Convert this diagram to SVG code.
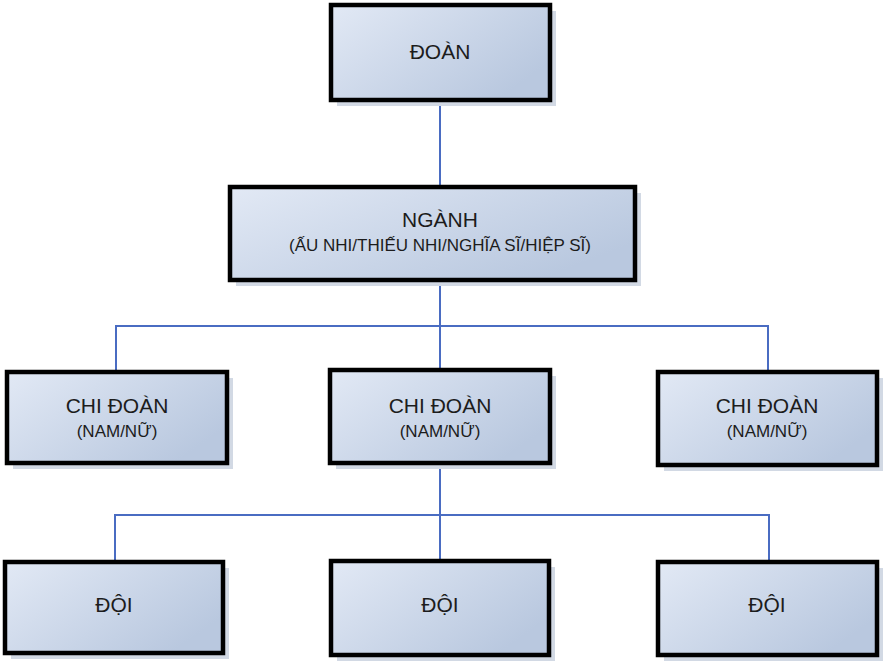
<svg xmlns="http://www.w3.org/2000/svg" width="889" height="661" viewBox="0 0 889 661">
<defs>
<linearGradient id="g" x1="0" y1="0" x2="1" y2="0.6">
<stop offset="0" stop-color="#e2e9f5"/>
<stop offset="1" stop-color="#b9c8df"/>
</linearGradient>
<style>
.box{fill:url(#g);stroke:#000;stroke-width:4.5}
.sh{fill:#d2d9e4}
.t{font-family:"Liberation Sans",Arial,sans-serif;fill:#1c1c1c;text-anchor:middle}
.big{font-size:21px}
.sm{font-size:17px}
.c{fill:none;stroke:#4a6cc2;stroke-width:2}
</style>
</defs>
<rect width="889" height="661" fill="#fff"/>
<g id="connectors">
<path class="c" d="M440 100V187"/>
<path class="c" d="M440 280V370"/>
<path class="c" d="M116 372V326H768V372"/>
<path class="c" d="M440 463V562"/>
<path class="c" d="M115 562V515H769V562"/>
</g>
<g id="doan">
<rect class="sh" x="337" y="11" width="219" height="95"/>
<rect class="box" x="331" y="5" width="219" height="95"/>
<text class="t big" x="440" y="59">ĐOÀN</text>
</g>
<g id="nganh">
<rect class="sh" x="236" y="193" width="405" height="93"/>
<rect class="box" x="230" y="187" width="405" height="93"/>
<text class="t big" x="440" y="227">NGÀNH</text>
<text class="t sm" x="440" y="251">(ẤU NHI/THIẾU NHI/NGHĨA SĨ/HIỆP SĨ)</text>
</g>
<g id="chidoan1">
<rect class="sh" x="13" y="378" width="220" height="91"/>
<rect class="box" x="7" y="372" width="220" height="91"/>
<text class="t big" x="117" y="413">CHI ĐOÀN</text>
<text class="t sm" x="117" y="437">(NAM/NỮ)</text>
</g>
<g id="chidoan2">
<rect class="sh" x="336" y="376" width="220" height="93"/>
<rect class="box" x="330" y="370" width="220" height="93"/>
<text class="t big" x="440" y="413">CHI ĐOÀN</text>
<text class="t sm" x="440" y="437">(NAM/NỮ)</text>
</g>
<g id="chidoan3">
<rect class="sh" x="664" y="378" width="219" height="93"/>
<rect class="box" x="658" y="372" width="219" height="93"/>
<text class="t big" x="767" y="413">CHI ĐOÀN</text>
<text class="t sm" x="767" y="437">(NAM/NỮ)</text>
</g>
<g id="doi1">
<rect class="sh" x="11" y="568" width="218" height="91"/>
<rect class="box" x="5" y="562" width="218" height="91"/>
<text class="t big" x="114" y="612">ĐỘI</text>
</g>
<g id="doi2">
<rect class="sh" x="337" y="567" width="218" height="94"/>
<rect class="box" x="331" y="561" width="218" height="94"/>
<text class="t big" x="440" y="612">ĐỘI</text>
</g>
<g id="doi3">
<rect class="sh" x="664" y="568" width="219" height="93"/>
<rect class="box" x="658" y="562" width="219" height="93"/>
<text class="t big" x="767" y="612">ĐỘI</text>
</g>
</svg>
